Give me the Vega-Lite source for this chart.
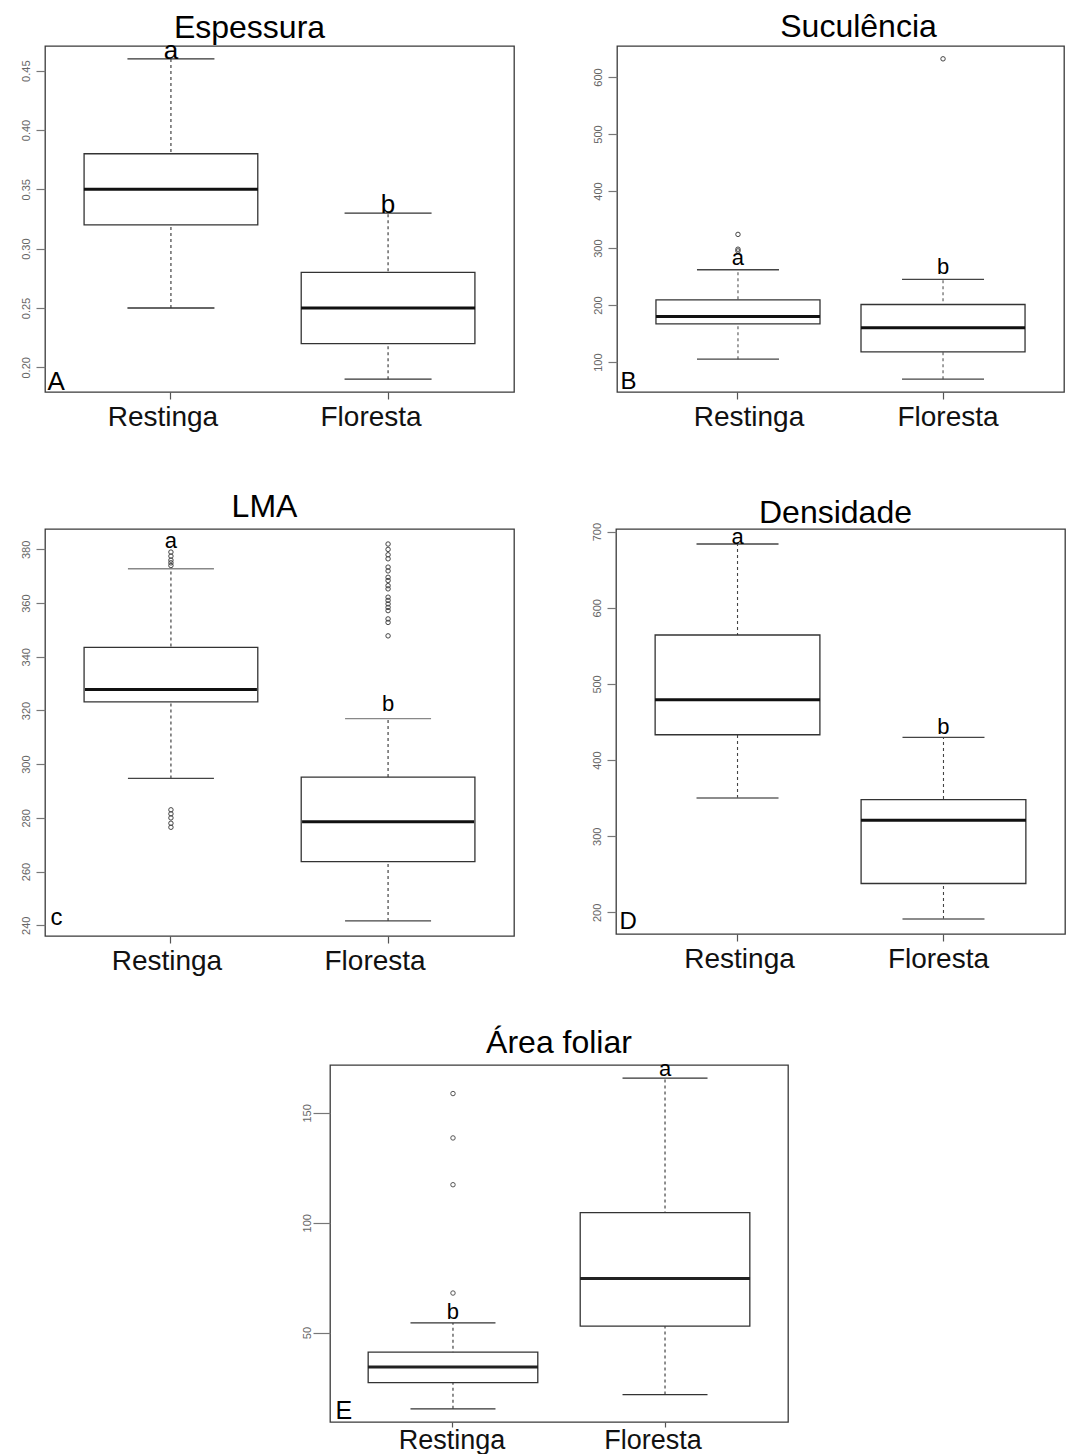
{
  "$schema": "https://vega.github.io/schema/vega-lite/v6.json",
  "background": "white",
  "padding": {"left": 19, "top": 10, "right": 0, "bottom": 0},
  "config": {
    "font": "Liberation Sans",
    "view": {"stroke": "#3a3a3a", "strokeWidth": 1.3},
    "axis": {"domain": false, "grid": false, "tickColor": "#555", "tickWidth": 1.2},
    "axisX": {"labelAngle": 0, "labelFontSize": 28, "labelColor": "#111", "tickSize": 7, "labelPadding": 4},
    "axisY": {"labelAngle": 270, "labelFontSize": 11, "labelColor": "#666", "tickSize": 9, "labelPadding": 5, "tickColor": "#777"},
    "title": {"fontSize": 32, "fontWeight": "normal", "color": "#000", "frame": "group", "baseline": "alphabetic", "anchor": "middle"},
    "tick": {"opacity": 1},
    "point": {"opacity": 1}
  },
  "datasets": {
    "espessura": [
      {"grupo": "Restinga", "min": 0.25, "q1": 0.32, "mediana": 0.35, "q3": 0.38, "max": 0.46, "letra": "a", "letra_y": 0.46},
      {"grupo": "Floresta", "min": 0.19, "q1": 0.22, "mediana": 0.25, "q3": 0.28, "max": 0.33, "letra": "b", "letra_y": 0.33}
    ],
    "suculencia": [
      {"grupo": "Restinga", "min": 105, "q1": 167, "mediana": 180, "q3": 209, "max": 262, "letra": "a", "letra_y": 270},
      {"grupo": "Floresta", "min": 70, "q1": 118, "mediana": 160, "q3": 201, "max": 245, "letra": "b", "letra_y": 255}
    ],
    "suculencia_out": [
      {"grupo": "Restinga", "valor": 324},
      {"grupo": "Restinga", "valor": 298},
      {"grupo": "Restinga", "valor": 295},
      {"grupo": "Floresta", "valor": 632}
    ],
    "lma": [
      {"grupo": "Restinga", "min": 294.7, "q1": 323.2, "mediana": 327.8, "q3": 343.5, "max": 372.8, "letra": "a", "letra_y": 380.4},
      {"grupo": "Floresta", "min": 241.6, "q1": 263.7, "mediana": 278.6, "q3": 295.2, "max": 317, "letra": "b", "letra_y": 319.8}
    ],
    "lma_out": [
      {"grupo": "Restinga", "valor": 379},
      {"grupo": "Restinga", "valor": 377.5},
      {"grupo": "Restinga", "valor": 376},
      {"grupo": "Restinga", "valor": 375},
      {"grupo": "Restinga", "valor": 374},
      {"grupo": "Restinga", "valor": 283},
      {"grupo": "Restinga", "valor": 281.5},
      {"grupo": "Restinga", "valor": 280},
      {"grupo": "Restinga", "valor": 278},
      {"grupo": "Restinga", "valor": 276.5},
      {"grupo": "Floresta", "valor": 382},
      {"grupo": "Floresta", "valor": 380},
      {"grupo": "Floresta", "valor": 378},
      {"grupo": "Floresta", "valor": 376.5},
      {"grupo": "Floresta", "valor": 373.4},
      {"grupo": "Floresta", "valor": 372},
      {"grupo": "Floresta", "valor": 369.6},
      {"grupo": "Floresta", "valor": 368.4},
      {"grupo": "Floresta", "valor": 366.5},
      {"grupo": "Floresta", "valor": 365.3},
      {"grupo": "Floresta", "valor": 362.2},
      {"grupo": "Floresta", "valor": 361},
      {"grupo": "Floresta", "valor": 359.7},
      {"grupo": "Floresta", "valor": 358.4},
      {"grupo": "Floresta", "valor": 357.2},
      {"grupo": "Floresta", "valor": 354.1},
      {"grupo": "Floresta", "valor": 352.8},
      {"grupo": "Floresta", "valor": 347.8}
    ],
    "densidade": [
      {"grupo": "Restinga", "min": 350.2, "q1": 433.3, "mediana": 479.3, "q3": 564.3, "max": 683.8, "letra": "a", "letra_y": 684},
      {"grupo": "Floresta", "min": 191.3, "q1": 237.9, "mediana": 321, "q3": 348, "max": 429.8, "letra": "b", "letra_y": 434.7}
    ],
    "area": [
      {"grupo": "Restinga", "min": 15.3, "q1": 27.2, "mediana": 34.3, "q3": 41.1, "max": 54.4, "letra": "b", "letra_y": 56},
      {"grupo": "Floresta", "min": 21.8, "q1": 52.9, "mediana": 74.6, "q3": 104.6, "max": 165.8, "letra": "a", "letra_y": 166.6}
    ],
    "area_out": [
      {"grupo": "Restinga", "valor": 158.8},
      {"grupo": "Restinga", "valor": 138.6},
      {"grupo": "Restinga", "valor": 117.3},
      {"grupo": "Restinga", "valor": 68}
    ],
    "vazio": [{"nada": ""}]
  },
  "vconcat": [
    {
      "hconcat": [
        {
          "width": 469, "height": 346,
          "title": {"text": "Espessura", "dx": -30, "offset": -7},
          "data": {"name": "espessura"},
          "encoding": {"x": {"field": "grupo", "type": "nominal", "scale": {"domain": ["Restinga", "Floresta"], "paddingInner": 0, "paddingOuter": 0.08}, "axis": {"title": null, "labelOffset": {"condition": {"test": "datum.value === 'Floresta'", "value": -17}, "value": -8}}}},
          "layer": [
            {"mark": {"type": "rule", "strokeDash": [3, 3], "color": "#333", "strokeWidth": 1.1},
             "encoding": {"y": {"field": "min", "type": "quantitative", "scale": {"domain": [0.1792, 0.4708], "nice": false, "zero": false},
               "axis": {"values": [0.2, 0.25, 0.3, 0.35, 0.4, 0.45], "format": ".2f", "title": "A", "titleAngle": 0, "titleAlign": "left", "titleBaseline": "alphabetic", "titleX": 2, "titleY": 343, "titleFontSize": 26, "titleFontWeight": "normal", "titleColor": "#000"}},
               "y2": {"field": "max"}}},
            {"mark": {"type": "bar", "width": {"band": 0.8}, "fill": "white", "stroke": "#333", "strokeWidth": 1.3}, "encoding": {"y": {"field": "q1", "type": "quantitative"}, "y2": {"field": "q3"}}},
            {"mark": {"type": "tick", "size": 174, "thickness": 3, "color": "#111"}, "encoding": {"y": {"field": "mediana", "type": "quantitative"}}},
            {"mark": {"type": "tick", "size": 87, "thickness": 1.3, "color": "#333"}, "encoding": {"y": {"field": "min", "type": "quantitative"}}},
            {"mark": {"type": "tick", "size": 87, "thickness": 1.3, "color": "#333"}, "encoding": {"y": {"field": "max", "type": "quantitative"}}},
            {"mark": {"type": "text", "fontSize": 26, "baseline": "alphabetic", "color": "#000"}, "encoding": {"y": {"field": "letra_y", "type": "quantitative"}, "text": {"field": "letra"}}}
          ]
        },
        {
          "width": 447, "height": 346,
          "title": {"text": "Suculência", "dx": 18, "offset": 2},
          "data": {"name": "suculencia"},
          "encoding": {"x": {"field": "grupo", "type": "nominal", "scale": {"domain": ["Restinga", "Floresta"], "paddingInner": 0, "paddingOuter": 0.09}, "axis": {"title": null, "labelOffset": {"condition": {"test": "datum.value === 'Floresta'", "value": 5}, "value": 11}}}},
          "layer": [
            {"mark": {"type": "rule", "strokeDash": [3, 3], "color": "#555", "strokeWidth": 1.1},
             "encoding": {"y": {"field": "min", "type": "quantitative", "scale": {"domain": [47.5, 654.5], "nice": false, "zero": false},
               "axis": {"values": [100, 200, 300, 400, 500, 600], "title": "B", "titleAngle": 0, "titleAlign": "left", "titleBaseline": "alphabetic", "titleX": 3, "titleY": 342, "titleFontSize": 24, "titleFontWeight": "normal", "titleColor": "#000"}},
               "y2": {"field": "max"}}},
            {"mark": {"type": "bar", "width": {"band": 0.8}, "fill": "white", "stroke": "#333", "strokeWidth": 1.3}, "encoding": {"y": {"field": "q1", "type": "quantitative"}, "y2": {"field": "q3"}}},
            {"mark": {"type": "tick", "size": 164, "thickness": 3, "color": "#111"}, "encoding": {"y": {"field": "mediana", "type": "quantitative"}}},
            {"mark": {"type": "tick", "size": 82, "thickness": 1.3, "color": "#444"}, "encoding": {"y": {"field": "min", "type": "quantitative"}}},
            {"mark": {"type": "tick", "size": 82, "thickness": 1.3, "color": "#444"}, "encoding": {"y": {"field": "max", "type": "quantitative"}}},
            {"data": {"name": "suculencia_out"}, "mark": {"type": "point", "shape": "circle", "filled": false, "size": 20, "stroke": "#444", "strokeWidth": 1}, "encoding": {"y": {"field": "valor", "type": "quantitative"}}},
            {"mark": {"type": "text", "fontSize": 22, "baseline": "alphabetic", "color": "#000"}, "encoding": {"y": {"field": "letra_y", "type": "quantitative"}, "text": {"field": "letra"}}}
          ]
        }
      ],
      "spacing": 103, "bounds": "flush"
    },
    {
      "vconcat": [
        {
          "hconcat": [
            {
              "width": 469, "height": 407,
              "title": {"text": "LMA", "dx": -15, "offset": 5},
              "data": {"name": "lma"},
              "encoding": {"x": {"field": "grupo", "type": "nominal", "scale": {"domain": ["Restinga", "Floresta"], "paddingInner": 0, "paddingOuter": 0.08}, "axis": {"title": null, "labelOffset": {"condition": {"test": "datum.value === 'Floresta'", "value": -13}, "value": -4}}}},
              "layer": [
                {"mark": {"type": "rule", "strokeDash": [3, 3], "color": "#333", "strokeWidth": 1.1},
                 "encoding": {"y": {"field": "min", "type": "quantitative", "scale": {"domain": [236, 387.6], "nice": false, "zero": false},
                   "axis": {"values": [240, 260, 280, 300, 320, 340, 360, 380], "title": "c", "titleAngle": 0, "titleAlign": "left", "titleBaseline": "alphabetic", "titleX": 5, "titleY": 395, "titleFontSize": 24, "titleFontWeight": "normal", "titleColor": "#000"}},
                   "y2": {"field": "max"}}},
                {"mark": {"type": "bar", "width": {"band": 0.8}, "fill": "white", "stroke": "#333", "strokeWidth": 1.3}, "encoding": {"y": {"field": "q1", "type": "quantitative"}, "y2": {"field": "q3"}}},
                {"mark": {"type": "tick", "size": 172, "thickness": 3, "color": "#111"}, "encoding": {"y": {"field": "mediana", "type": "quantitative"}}},
                {"mark": {"type": "tick", "size": 86, "thickness": 1.3, "color": "#444"}, "encoding": {"y": {"field": "min", "type": "quantitative"}}},
                {"mark": {"type": "tick", "size": 86, "thickness": 1.3, "color": "#888"}, "encoding": {"y": {"field": "max", "type": "quantitative"}}},
                {"data": {"name": "lma_out"}, "mark": {"type": "point", "shape": "circle", "filled": false, "size": 20, "stroke": "#444", "strokeWidth": 1}, "encoding": {"y": {"field": "valor", "type": "quantitative"}}},
                {"mark": {"type": "text", "fontSize": 22, "baseline": "alphabetic", "color": "#000"}, "encoding": {"y": {"field": "letra_y", "type": "quantitative"}, "text": {"field": "letra"}}}
              ]
            },
            {
              "width": 449, "height": 405,
              "title": {"text": "Densidade", "dx": -5, "offset": -8},
              "data": {"name": "densidade"},
              "encoding": {"x": {"field": "grupo", "type": "nominal", "scale": {"domain": ["Restinga", "Floresta"], "paddingInner": 0, "paddingOuter": 0.09}, "axis": {"title": null, "labelOffset": {"condition": {"test": "datum.value === 'Floresta'", "value": -5}, "value": 2}}}},
              "layer": [
                {"mark": {"type": "rule", "strokeDash": [3, 3], "color": "#444", "strokeWidth": 1.1},
                 "encoding": {"y": {"field": "min", "type": "quantitative", "scale": {"domain": [171.6, 703.5], "nice": false, "zero": false},
                   "axis": {"values": [200, 300, 400, 500, 600, 700], "title": "D", "titleAngle": 0, "titleAlign": "left", "titleBaseline": "alphabetic", "titleX": 3, "titleY": 399, "titleFontSize": 24, "titleFontWeight": "normal", "titleColor": "#000"}},
                   "y2": {"field": "max"}}},
                {"mark": {"type": "bar", "width": {"band": 0.8}, "fill": "white", "stroke": "#333", "strokeWidth": 1.3}, "encoding": {"y": {"field": "q1", "type": "quantitative"}, "y2": {"field": "q3"}}},
                {"mark": {"type": "tick", "size": 165, "thickness": 3, "color": "#111"}, "encoding": {"y": {"field": "mediana", "type": "quantitative"}}},
                {"mark": {"type": "tick", "size": 82, "thickness": 1.3, "color": "#666"}, "encoding": {"y": {"field": "min", "type": "quantitative"}}},
                {"mark": {"type": "tick", "size": 82, "thickness": 1.3, "color": "#444"}, "encoding": {"y": {"field": "max", "type": "quantitative"}}},
                {"mark": {"type": "text", "fontSize": 22, "baseline": "alphabetic", "color": "#000"}, "encoding": {"y": {"field": "letra_y", "type": "quantitative"}, "text": {"field": "letra"}}}
              ]
            }
          ],
          "spacing": 102, "bounds": "flush"
        },
        {
          "hconcat": [
            {
              "width": 285, "height": 10,
              "view": {"fill": "white", "stroke": null},
              "data": {"name": "vazio"},
              "mark": {"type": "text"},
              "encoding": {"text": {"field": "nada"}}
            },
            {
              "width": 458, "height": 357,
              "title": {"text": "Área foliar", "dx": 0, "offset": -2},
              "data": {"name": "area"},
              "encoding": {"x": {"field": "grupo", "type": "nominal", "scale": {"domain": ["Restinga", "Floresta"], "paddingInner": 0, "paddingOuter": 0.08}, "axis": {"title": null, "tickSize": 5, "labelPadding": 0, "labelFontSize": 27, "labelOffset": {"condition": {"test": "datum.value === 'Floresta'", "value": -12}, "value": -1}}}},
              "layer": [
                {"mark": {"type": "rule", "strokeDash": [3, 3], "color": "#333", "strokeWidth": 1.1},
                 "encoding": {"y": {"field": "min", "type": "quantitative", "scale": {"domain": [9.3, 171.8], "nice": false, "zero": false},
                   "axis": {"values": [50, 100, 150], "tickSize": 17, "labelPadding": 1, "title": "E", "titleAngle": 0, "titleAlign": "left", "titleBaseline": "alphabetic", "titleX": 5, "titleY": 353, "titleFontSize": 25, "titleFontWeight": "normal", "titleColor": "#000"}},
                   "y2": {"field": "max"}}},
                {"mark": {"type": "bar", "width": {"band": 0.8}, "fill": "white", "stroke": "#333", "strokeWidth": 1.3}, "encoding": {"y": {"field": "q1", "type": "quantitative"}, "y2": {"field": "q3"}}},
                {"mark": {"type": "tick", "size": 170, "thickness": 3, "color": "#222"}, "encoding": {"y": {"field": "mediana", "type": "quantitative"}}},
                {"mark": {"type": "tick", "size": 85, "thickness": 1.3, "color": "#333"}, "encoding": {"y": {"field": "min", "type": "quantitative"}}},
                {"mark": {"type": "tick", "size": 85, "thickness": 1.3, "color": "#333"}, "encoding": {"y": {"field": "max", "type": "quantitative"}}},
                {"data": {"name": "area_out"}, "mark": {"type": "point", "shape": "circle", "filled": false, "size": 20, "stroke": "#555", "strokeWidth": 1}, "encoding": {"y": {"field": "valor", "type": "quantitative"}}},
                {"mark": {"type": "text", "fontSize": 22, "baseline": "alphabetic", "color": "#000"}, "encoding": {"y": {"field": "letra_y", "type": "quantitative"}, "text": {"field": "letra"}}}
              ]
            }
          ],
          "spacing": 0, "bounds": "flush"
        }
      ],
      "spacing": 50
    }
  ],
  "spacing": 58
}
